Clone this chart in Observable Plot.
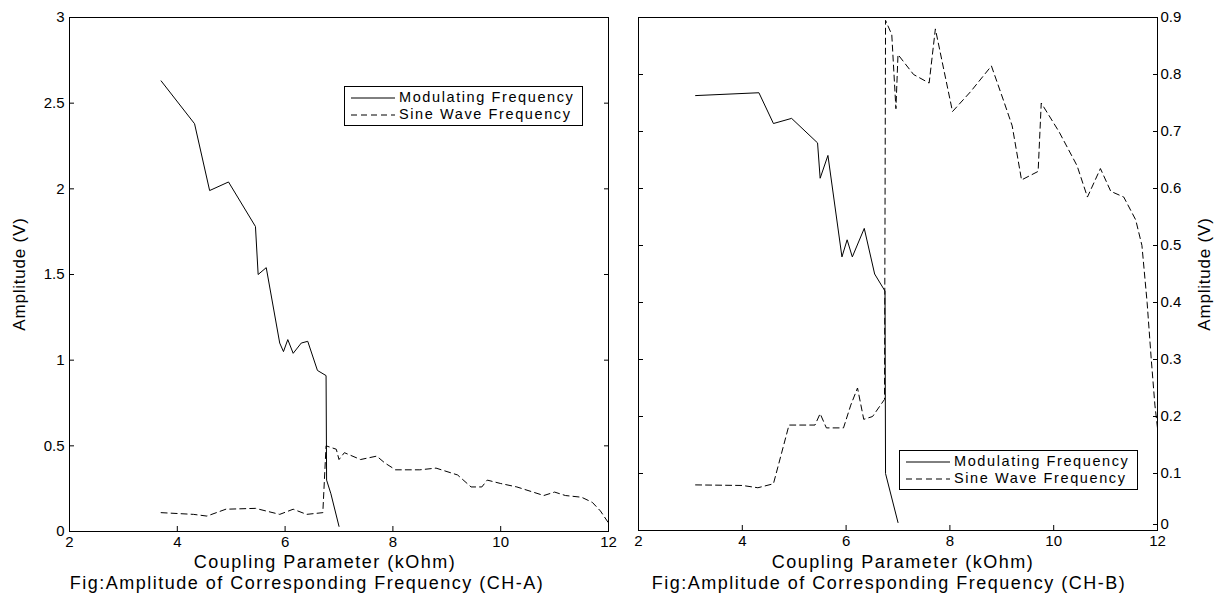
<!DOCTYPE html>
<html>
<head>
<meta charset="utf-8">
<script src="https://cdn.jsdelivr.net/npm/d3@7"></script>
<script src="https://cdn.jsdelivr.net/npm/@observablehq/plot@0.6"></script>
<style>
  body { margin: 0; background: #fff; font-family: "Liberation Sans", Arial, sans-serif; color: #000; }
  #wrap { position: relative; width: 1220px; height: 600px; overflow: hidden; background: #fff; }
  .panel { position: absolute; top: 0; }
  .xlab, .cap { position: absolute; transform: translateX(-50%); white-space: nowrap; font-size: 18px; letter-spacing: 1.5px; line-height: 20px; }
  .ylab { position: absolute; transform: translate(-50%, -50%) rotate(-90deg); white-space: nowrap; font-size: 17px; letter-spacing: 0.8px; }
  .legend { position: absolute; border: 1px solid #000; background: #fff; font-size: 14.5px; letter-spacing: 1.6px; padding: 2px 8px 2px 6px; line-height: 17px; }
  .legend .row { display: flex; align-items: center; white-space: nowrap; }
  .legend svg { margin-right: 4px; }
</style>
</head>
<body>
<div id="wrap"></div>
<script>
// ---- data ----
const xTicks = [2, 4, 6, 8, 10, 12];
const yTicksA = [0, 0.5, 1, 1.5, 2, 2.5, 3];
const yTicksB = [0, 0.1, 0.2, 0.3, 0.4, 0.5, 0.6, 0.7, 0.8, 0.9];

// CH-A: Modulating Frequency
const modA_x = [3.70, 4.32, 4.60, 4.95, 5.45, 5.50, 5.65, 5.90, 5.97, 6.05, 6.15, 6.30, 6.42, 6.60, 6.76, 6.77, 6.85, 7.00];
const modA_y = [2.63, 2.38, 1.99, 2.04, 1.78, 1.50, 1.54, 1.10, 1.05, 1.12, 1.04, 1.10, 1.11, 0.94, 0.91, 0.30, 0.22, 0.03];
// CH-A: Sine Wave Frequency
const sinA_x = [3.70, 4.00, 4.30, 4.55, 4.90, 5.45, 5.90, 6.15, 6.40, 6.70, 6.76, 6.95, 7.00, 7.10, 7.40, 7.70, 7.85, 8.05, 8.50, 8.80, 9.20, 9.45, 9.65, 9.75, 10.0, 10.3, 10.6, 10.8, 11.0, 11.2, 11.5, 11.7, 11.85, 12.0];
const sinA_y = [0.11, 0.105, 0.10, 0.09, 0.13, 0.135, 0.10, 0.13, 0.10, 0.11, 0.50, 0.48, 0.42, 0.46, 0.42, 0.44, 0.40, 0.36, 0.36, 0.37, 0.33, 0.26, 0.26, 0.30, 0.28, 0.26, 0.23, 0.21, 0.23, 0.21, 0.20, 0.17, 0.12, 0.05];

// CH-B: Modulating Frequency
const modB_x = [3.10, 4.32, 4.60, 4.95, 5.45, 5.50, 5.65, 5.92, 6.02, 6.12, 6.35, 6.55, 6.75, 6.76, 7.00];
const modB_y = [0.763, 0.768, 0.714, 0.723, 0.680, 0.618, 0.658, 0.480, 0.510, 0.480, 0.530, 0.450, 0.420, 0.100, 0.014];
// CH-B: Sine Wave Frequency
const sinB_x = [3.10, 4.00, 4.30, 4.60, 4.90, 5.40, 5.50, 5.62, 5.95, 6.09, 6.22, 6.34, 6.51, 6.74, 6.76, 6.88, 6.96, 7.00, 7.30, 7.60, 7.72, 8.05, 8.40, 8.80, 9.05, 9.20, 9.38, 9.70, 9.76, 10.1, 10.45, 10.65, 10.90, 11.10, 11.35, 11.58, 11.70, 11.80, 11.88, 11.95, 12.0];
const sinB_y = [0.080, 0.079, 0.075, 0.082, 0.185, 0.185, 0.205, 0.180, 0.180, 0.220, 0.250, 0.195, 0.200, 0.230, 0.895, 0.870, 0.740, 0.835, 0.800, 0.785, 0.880, 0.735, 0.770, 0.815, 0.750, 0.710, 0.615, 0.630, 0.750, 0.700, 0.640, 0.585, 0.635, 0.595, 0.585, 0.545, 0.500, 0.400, 0.300, 0.220, 0.180];

const seriesNames = ["Modulating Frequency", "Sine Wave Frequency"];
const xLabel = "Coupling Parameter (kOhm)";
const yLabel = "Amplitude (V)";
const captionA = "Fig:Amplitude of Corresponding Frequency (CH-A)";
const captionB = "Fig:Amplitude of Corresponding Frequency (CH-B)";

const rows = (xs, ys) => xs.map((x, i) => ({x, y: ys[i]}));
const fmt = d => String(+d.toFixed(2));
const baseStyle = {fontFamily: "'Liberation Sans', Arial, sans-serif", fontSize: "15px", color: "#000", background: "transparent", overflow: "visible"};
const dash = "6,4";

const wrap = document.getElementById("wrap");

// ---- Panel A ----
const plotA = Plot.plot({
  width: 620, height: 550,
  marginLeft: 69, marginRight: 12, marginTop: 17, marginBottom: 19,
  style: baseStyle,
  x: {domain: [2, 12]},
  y: {domain: [0, 3]},
  marks: [
    Plot.frame({stroke: "#000", strokeWidth: 1}),
    Plot.axisX({ticks: xTicks, tickSize: -5, tickPadding: 10, tickFormat: fmt, label: null}),
    Plot.axisY({ticks: yTicksA, tickSize: -5, tickPadding: 10, tickFormat: fmt, label: null}),
    Plot.axisY({anchor: "right", ticks: yTicksA, tickSize: -5, tickFormat: () => "", label: null}),
    Plot.line(rows(modA_x, modA_y), {x: "x", y: "y", stroke: "#000", strokeWidth: 1}),
    Plot.line(rows(sinA_x, sinA_y), {x: "x", y: "y", stroke: "#000", strokeWidth: 1, strokeDasharray: dash})
  ]
});
plotA.classList.add("panel");
plotA.style.left = "0px";
wrap.appendChild(plotA);

// ---- Panel B ----
const plotB = Plot.plot({
  width: 600, height: 550,
  marginLeft: 18, marginRight: 63, marginTop: 17, marginBottom: 20,
  style: baseStyle,
  x: {domain: [2, 12]},
  y: {domain: [0, 0.9]},
  marks: [
    Plot.frame({stroke: "#000", strokeWidth: 1}),
    Plot.axisX({ticks: xTicks, tickSize: -5, tickPadding: 10, tickFormat: fmt, label: null}),
    Plot.axisY({anchor: "left", ticks: yTicksB, tickSize: -5, tickFormat: () => "", label: null}),
    Plot.axisY({anchor: "right", ticks: yTicksB.filter(d => d > 0), tickSize: -5, tickPadding: 8, tickFormat: fmt, label: null}),
    Plot.axisY({anchor: "right", ticks: yTicksB.filter(d => d === 0), tickSize: -5, tickPadding: 8, dy: -6, tickFormat: fmt, label: null}),
    Plot.line(rows(modB_x, modB_y), {x: "x", y: "y", stroke: "#000", strokeWidth: 1}),
    Plot.line(rows(sinB_x, sinB_y), {x: "x", y: "y", stroke: "#000", strokeWidth: 1, strokeDasharray: dash})
  ]
});
plotB.classList.add("panel");
plotB.style.left = "620px";
wrap.appendChild(plotB);

// ---- texts ----
function addDiv(cls, text, left, top) {
  const d = document.createElement("div");
  d.className = cls; d.textContent = text;
  d.style.left = left + "px"; d.style.top = top + "px";
  wrap.appendChild(d);
  return d;
}
addDiv("xlab", xLabel, 325, 552);
addDiv("cap", captionA, 307, 573);
addDiv("xlab", xLabel, 903, 552);
addDiv("cap", captionB, 889, 573);
addDiv("ylab", yLabel, 20, 274);
addDiv("ylab", yLabel, 1205, 274);

function legend(left, top) {
  const box = document.createElement("div");
  box.className = "legend";
  box.style.left = left + "px"; box.style.top = top + "px";
  seriesNames.forEach((name, i) => {
    const r = document.createElement("div");
    r.className = "row";
    r.innerHTML = `<svg width="44" height="10"><line x1="0" y1="5" x2="44" y2="5" stroke="#000" stroke-width="1" ${i ? `stroke-dasharray="${dash}"` : ""}/></svg><span></span>`;
    r.querySelector("span").textContent = name;
    box.appendChild(r);
  });
  wrap.appendChild(box);
}
legend(344, 86);
legend(899, 450);
</script>
</body>
</html>
